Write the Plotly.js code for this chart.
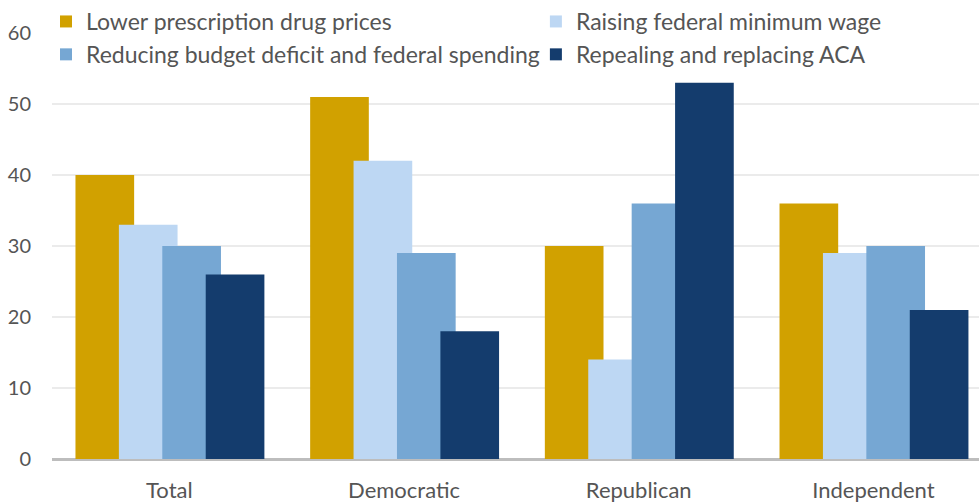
<!DOCTYPE html>
<html><head><meta charset="utf-8">
<script src="https://cdn.plot.ly/plotly-3.0.1.min.js"></script>
<style>html,body{margin:0;padding:0;background:#fff}#chart{width:979px;height:504px}</style>
</head><body><div id="chart"></div>
<script>
const categories = ["Total", "Democratic", "Republican", "Independent"];
const seriesNames = ["Lower prescription drug prices", "Raising federal minimum wage", "Reducing budget deficit and federal spending", "Repealing and replacing ACA"];
const lowerDrugPrices = [40, 51, 30, 36];
const minimumWage = [33, 42, 14, 29];
const budgetDeficit = [30, 29, 36, 30];
const repealACA = [26, 18, 53, 21];
const yTicks = [0, 10, 20, 30, 40, 50, 60];
const gridValues = [10, 20, 30, 40, 50];

const colors = ["#D1A100", "#BDD7F3", "#76A7D3", "#143C6D"];
const values = [lowerDrugPrices, minimumWage, budgetDeficit, repealACA];
const offsets = [-0.40, -0.215, -0.03, 0.155];
const legendIds = ["legend", "legend2", "legend", "legend2"];
const traces = values.map((v, i) => ({
  type: "bar", x: categories, y: v, name: seriesNames[i],
  marker: {color: colors[i], line: {width: 0}},
  width: 0.25, offset: offsets[i], hoverinfo: "x+y", legend: legendIds[i]
}));

const legendCommon = {orientation: "v", xanchor: "left", y: 1.0775, yanchor: "top",
  bgcolor: "rgba(0,0,0,0)", font: {size: 23, color: "#555"}, itemwidth: 30,
  tracegroupgap: 0, traceorder: "normal"};

const layout = {
  width: 979, height: 504,
  margin: {l: 52, r: 0, t: 33, b: 45},
  barmode: "overlay",
  paper_bgcolor: "#fff", plot_bgcolor: "#fff",
  font: {family: "Lato, 'Open Sans', sans-serif", size: 20, color: "#555"},
  showlegend: true,
  legend: Object.assign({}, legendCommon, {x: -0.0065}),
  legend2: Object.assign({}, legendCommon, {x: 0.522}),
  shapes: gridValues.map(g => ({type: "line", xref: "paper", x0: 0, x1: 1, yref: "y", y0: g, y1: g,
    line: {color: "#ebebeb", width: 2}, layer: "below"})),
  xaxis: {type: "category", range: [-0.5, 3.45], showgrid: false, zeroline: false,
    showline: false, ticks: "outside", ticklen: 12, tickcolor: "rgba(0,0,0,0)",
    tickfont: {size: 22, color: "#555"}, fixedrange: true},
  yaxis: {range: [0, 60], tickvals: yTicks, showgrid: false,
    zeroline: true, zerolinecolor: "#bdbdbd", zerolinewidth: 3, showline: false,
    ticks: "outside", ticklen: 16, tickcolor: "rgba(0,0,0,0)",
    tickfont: {size: 20, color: "#555"}, fixedrange: true}
};
Plotly.newPlot("chart", traces, layout, {displayModeBar: false, staticPlot: true});
</script></body></html>
